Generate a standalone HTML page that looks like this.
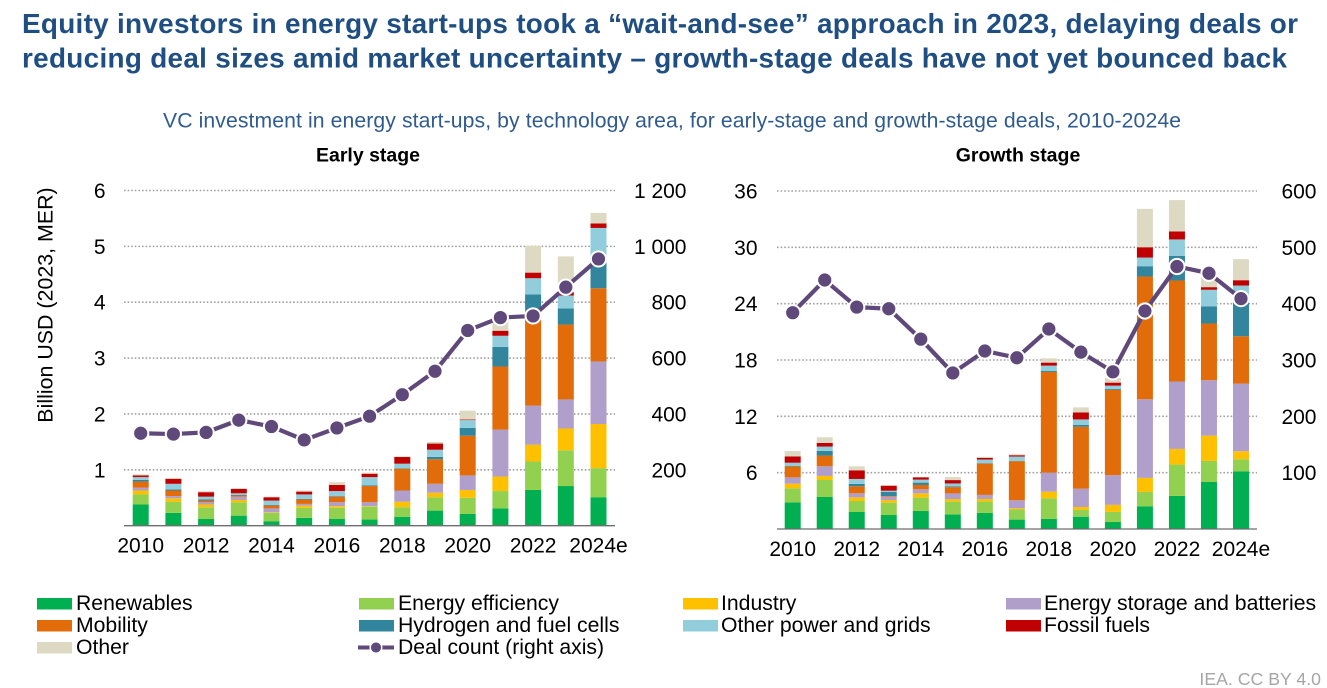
<!DOCTYPE html>
<html lang="en">
<head>
<meta charset="utf-8">
<title>VC investment in energy start-ups</title>
<style>
html,body{margin:0;padding:0;background:#fff;}
body{width:1327px;height:688px;overflow:hidden;position:relative;font-family:"Liberation Sans",sans-serif;}
svg{position:absolute;left:0;top:0;}
text{font-family:"Liberation Sans",sans-serif;}
</style>
</head>
<body>
<svg id="chart" width="1327" height="688" viewBox="0 0 1327 688" xmlns="http://www.w3.org/2000/svg">
  <g font-weight="700" font-size="27.9" fill="#1f4e82">
    <text x="22" y="33" textLength="1276" lengthAdjust="spacing">Equity investors in energy start-ups took a “wait-and-see” approach in 2023, delaying deals or</text>
    <text x="22" y="67.5" textLength="1265" lengthAdjust="spacing">reducing deal sizes amid market uncertainty – growth-stage deals have not yet bounced back</text>
  </g>
  <text x="163" y="127.5" font-size="21.2" fill="#2f5b8f" textLength="1018" lengthAdjust="spacing">VC investment in energy start-ups, by technology area, for early-stage and growth-stage deals, 2010-2024e</text>
  <text x="368" y="161.5" text-anchor="middle" font-size="19.5" font-weight="700" fill="#000">Early stage</text>
  <text x="1018" y="161.5" text-anchor="middle" font-size="19.5" font-weight="700" fill="#000">Growth stage</text>
  <text transform="translate(52.7,305) rotate(-90)" text-anchor="middle" font-size="21.4" fill="#000">Billion USD (2023, MER)</text>
  <g id="early-panel"></g>
  <g id="growth-panel"></g>
  <g font-size="21.2" fill="#000">
    <g><rect x="37" y="598" width="35" height="11.5" fill="#00b050"/><text x="76" y="610">Renewables</text></g>
    <g><rect x="359" y="598" width="35" height="11.5" fill="#92d050"/><text x="398" y="610">Energy efficiency</text></g>
    <g><rect x="683" y="598" width="35" height="11.5" fill="#ffc000"/><text x="721" y="610">Industry</text></g>
    <g><rect x="1006" y="598" width="35" height="11.5" fill="#b09fca"/><text x="1044" y="610">Energy storage and batteries</text></g>
    <g><rect x="37" y="620" width="35" height="11.5" fill="#e36c0a"/><text x="76" y="632">Mobility</text></g>
    <g><rect x="359" y="620" width="35" height="11.5" fill="#31859c"/><text x="398" y="632">Hydrogen and fuel cells</text></g>
    <g><rect x="683" y="620" width="35" height="11.5" fill="#92cddc"/><text x="721" y="632">Other power and grids</text></g>
    <g><rect x="1006" y="620" width="35" height="11.5" fill="#c00000"/><text x="1044" y="632">Fossil fuels</text></g>
    <g><rect x="37" y="642" width="35" height="11.5" fill="#ddd9c3"/><text x="76" y="654">Other</text></g>
    <g><line x1="358" x2="394" y1="647.5" y2="647.5" stroke="#5f497a" stroke-width="4"/><circle cx="376" cy="647.5" r="5.8" fill="#5f497a" stroke="#fff" stroke-width="1.5"/><text x="398" y="654">Deal count (right axis)</text></g>
  </g>
  <text x="1321" y="685" text-anchor="end" font-size="17.7" fill="#a6a6a6">IEA. CC BY 4.0</text>
</svg>
<script>
const years = ['2010','2011','2012','2013','2014','2015','2016','2017','2018','2019','2020','2021','2022','2023','2024e'];
const seriesNames = ['renewables','energy-efficiency','industry','energy-storage','mobility','hydrogen','other-power','fossil-fuels','other'];
const seriesColors = ['#00b050','#92d050','#ffc000','#b09fca','#e36c0a','#31859c','#92cddc','#c00000','#ddd9c3'];

const earlyRenewables = [.38,.23,.12,.18,.08,.14,.12,.11,.16,.27,.21,.31,.64,.71,.51];
const earlyEfficiency = [.18,.20,.21,.24,.15,.18,.20,.23,.17,.24,.29,.31,.51,.64,.52];
const earlyIndustry = [.07,.06,.05,.04,.01,.04,.03,.01,.10,.08,.14,.26,.30,.39,.79];
const earlyStorage = [.05,.04,.04,.06,.07,.03,.07,.07,.20,.16,.26,.84,.70,.52,1.12];
const earlyMobility = [.11,.10,.03,.02,.05,.08,.10,.29,.39,.44,.71,1.13,1.70,1.34,1.31];
const earlyHydrogen = [.03,.02,.02,.01,.01,.01,.01,.01,.01,.04,.14,.35,.29,.29,.47];
const earlyOtherPower = [.05,.10,.05,.03,.08,.08,.09,.15,.08,.13,.14,.20,.29,.23,.61];
const earlyFossil = [.03,.09,.08,.08,.06,.05,.11,.06,.12,.11,.01,.09,.10,.06,.08];
const earlyOther = [.02,.01,.02,.01,.01,.02,.05,.02,.01,.03,.16,.22,.48,.64,.19];
const earlyDeals = [331,328,334,378,355,307,350,392,469,553,699,745,751,854,955];
const earlyLeftTicks = [1,2,3,4,5,6];
const earlyRightTicks = [200,400,600,800,1000,1200];
const earlyRightLabels = ['200','400','600','800','1 000','1 200'];

const growthRenewables = [2.84,3.41,1.81,1.49,1.92,1.56,1.71,1.00,1.07,1.31,.75,2.42,3.52,5.01,6.15];
const growthEfficiency = [1.49,1.81,1.17,1.31,1.42,1.35,1.21,1.07,2.20,.71,1.07,1.53,3.34,2.24,1.28];
const growthIndustry = [.50,.43,.39,.28,.46,.28,.28,.14,.71,.32,.75,1.49,1.67,2.70,.85];
const growthStorage = [.67,1.03,.43,.36,.43,.60,.43,.85,2.02,1.95,3.16,8.38,7.18,5.90,7.21];
const growthMobility = [1.17,1.14,.75,.07,.46,.67,3.34,4.16,10.73,6.60,9.09,13.07,10.76,6.04,5.04];
const growthHydrogen = [.04,.50,.25,.43,.25,.07,.04,.04,.10,.21,.10,1.10,2.63,1.81,3.80];
const growthOtherPower = [.35,.46,.53,.14,.32,.32,.39,.46,.57,.57,.35,.92,1.74,1.78,1.60];
const growthFossil = [.67,.39,.92,.53,.25,.36,.18,.14,.32,.75,.32,1.10,.85,.28,.57];
const growthOther = [.57,.60,.43,.07,.04,.32,.11,.11,.46,.53,.50,4.09,3.34,1.20,2.24];
const growthDeals = [384,442,394,391,337,277,316,304,355,314,279,387,466,454,409];
const growthLeftTicks = [6,12,18,24,30,36];
const growthRightTicks = [100,200,300,400,500,600];
const growthRightLabels = ['100','200','300','400','500','600'];

const earlySeries = [earlyRenewables,earlyEfficiency,earlyIndustry,earlyStorage,earlyMobility,earlyHydrogen,earlyOtherPower,earlyFossil,earlyOther];
const growthSeries = [growthRenewables,growthEfficiency,growthIndustry,growthStorage,growthMobility,growthHydrogen,growthOtherPower,growthFossil,growthOther];

const SVG_NS = 'http://www.w3.org/2000/svg';
const TICK_FONT = 21;
function node(parent, tag, attrs, text) {
  const el = document.createElementNS(SVG_NS, tag);
  for (const k in attrs) el.setAttribute(k, attrs[k]);
  if (text !== undefined) el.textContent = text;
  parent.appendChild(el);
  return el;
}

function drawPanel(cfg) {
  const root = document.getElementById(cfg.id);
  const xOf = function (i) { return cfg.firstX + i * cfg.stepX; };
  const yLeft = function (v) { return cfg.baseY - (v / cfg.leftMax) * (cfg.baseY - cfg.topY); };
  const yRight = function (v) { return cfg.baseY - (v / cfg.rightMax) * (cfg.baseY - cfg.topY); };

  cfg.leftTicks.forEach(function (t) {
    const grid = node(root, 'line', {x1: cfg.axisL, x2: cfg.axisR, y1: yLeft(t), y2: yLeft(t), stroke: '#a0a0a0', 'stroke-width': 1.6, 'stroke-dasharray': '1.6 2'});
    
    
    const lab = node(root, 'text', {x: cfg.leftLabelX, y: yLeft(t) + 7.5, 'text-anchor': 'end', 'font-size': TICK_FONT, fill: '#000'}, String(t));
    
    
  });
  cfg.rightTicks.forEach(function (t, i) {
    const lab = node(root, 'text', {x: cfg.rightLabelX, y: yRight(t) + 7.5, 'text-anchor': 'end', 'font-size': TICK_FONT, fill: '#000'}, cfg.rightLabels[i]);
    
    
  });

  years.forEach(function (year, i) {
    let cum = 0;
    cfg.series.forEach(function (values, s) {
      const v = values[i];
      const top = yLeft(cum + v);
      const bottom = yLeft(cum);
      const bar = node(root, 'rect', {x: xOf(i) - 8, y: top, width: 16, height: Math.max(0, bottom - top), fill: seriesColors[s]});
      
      
      cum += v;
    });
    if (i % 2 === 0) {
      const lab = node(root, 'text', {x: xOf(i), y: cfg.baseY + 27, 'text-anchor': 'middle', 'font-size': TICK_FONT, fill: '#000'}, year);
      
      
    }
  });

  const axis = node(root, 'line', {x1: cfg.axisL, x2: cfg.axisR, y1: cfg.baseY, y2: cfg.baseY, stroke: '#6e6e6e', 'stroke-width': 1.3});
  
  

  const pts = cfg.deals.map(function (d, i) { return xOf(i) + ',' + yRight(d); }).join(' ');
  const line = node(root, 'polyline', {points: pts, fill: 'none', stroke: '#5f497a', 'stroke-width': 4.2});
  
  
  cfg.deals.forEach(function (d, i) {
    const dot = node(root, 'circle', {cx: xOf(i), cy: yRight(d), r: 7.6, fill: '#5f497a', stroke: '#fff', 'stroke-width': 2});
    
    
  });
}

drawPanel({id: 'early-panel', series: earlySeries, deals: earlyDeals, leftTicks: earlyLeftTicks, rightTicks: earlyRightTicks, rightLabels: earlyRightLabels,
  leftMax: 6, rightMax: 1200, baseY: 525.7, topY: 190.5, firstX: 140.7, stepX: 32.7, axisL: 124, axisR: 615, leftLabelX: 105.5, rightLabelX: 686.5});
drawPanel({id: 'growth-panel', series: growthSeries, deals: growthDeals, leftTicks: growthLeftTicks, rightTicks: growthRightTicks, rightLabels: growthRightLabels,
  leftMax: 36, rightMax: 600, baseY: 529, topY: 191, firstX: 792.7, stepX: 32.02, axisL: 777, axisR: 1257, leftLabelX: 757.5, rightLabelX: 1316.5});
</script>
</body>
</html>
